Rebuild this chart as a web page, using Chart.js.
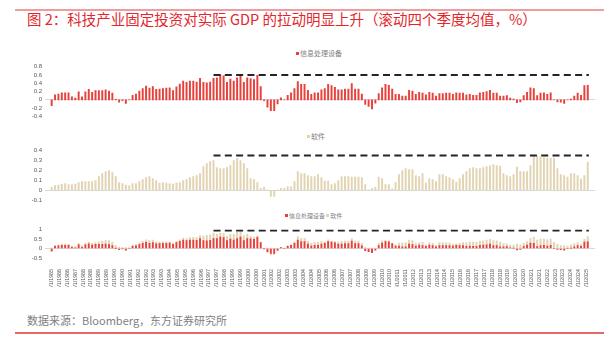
<!DOCTYPE html>
<html>
<head>
<meta charset="utf-8">
<script src="https://cdn.jsdelivr.net/npm/chart.js@4.4.1/dist/chart.umd.min.js"></script>
<style>
body { margin: 0; background: #fff; }
#wrap { position: relative; width: 615px; height: 340px; overflow: hidden; font-family: "Noto Sans CJK SC", "Noto Sans", sans-serif; }
.rule { position: absolute; left: 15px; width: 589px; }
#title { position: absolute; left: 27px; top: 11px; font-size: 14.5px; line-height: 16px; color: #e3262b; white-space: nowrap; }
#source { position: absolute; left: 27px; top: 313px; font-size: 11px; line-height: 14px; color: #7f7f7f; white-space: nowrap; }
.legend { position: absolute; font-size: 7px; line-height: 8px; color: #808080; white-space: nowrap; }
.legend i { display: inline-block; width: 3px; height: 3px; margin: 0 1px 1px 0; vertical-align: middle; }
canvas { position: absolute; left: 0; }
</style>
</head>
<body>
<div id="wrap">
  <div class="rule" style="top:9px;height:2px;background:#f19c9c"></div>
  <div id="title">图 2：科技产业固定投资对实际 GDP 的拉动明显上升（滚动四个季度均值，%）</div>

  <div class="legend" style="left:296px;top:49px"><i style="background:#e8413c"></i>信息处理设备</div>
  <canvas id="c1" width="615" height="63" style="top:60px"></canvas>

  <div class="legend" style="left:307px;top:132px"><i style="background:#e2d4b2"></i>软件</div>
  <canvas id="c2" width="615" height="63" style="top:144px"></canvas>

  <div class="legend" style="left:285px;top:212px;font-size:6px"><i style="background:#e8413c"></i>信息处理设备 <i style="background:#e2d4b2"></i>软件</div>
  <canvas id="c3" width="615" height="66" style="top:223px"></canvas>

  <div id="source">数据来源：Bloomberg，东方证券研究所</div>
  <div class="rule" style="top:332px;height:1.5px;background:#e46a6a"></div>
</div>
<script>
// quarterly, rolling 4Q average contribution (%), 1985Q3 .. 2025Q2
var infoEquip = [
  -0.14, 0.12, 0.14, 0.17, 0.17, 0.17, 0.07, 0.04, 0.19, 0.07,
  0.19, 0.25, 0.18, 0.22, 0.22, 0.22, 0.24, 0.21, 0.16, 0.01,
  -0.06, -0.02, -0.09, 0.0, 0.11, 0.14, 0.21, 0.27, 0.33, 0.28,
  0.32, 0.25, 0.26, 0.27, 0.28, 0.29, 0.22, 0.31, 0.38, 0.45,
  0.42, 0.45, 0.45, 0.43, 0.52, 0.42, 0.41, 0.43, 0.52, 0.53,
  0.6, 0.58, 0.42, 0.5, 0.45, 0.53, 0.6, 0.42, 0.53, 0.51,
  0.49, 0.59, 0.32, -0.02, -0.18, -0.26, -0.26, -0.1, 0.05, 0.0,
  0.11, 0.17, 0.27, 0.44, 0.37, 0.37, 0.23, 0.13, 0.17, 0.17,
  0.24, 0.27, 0.37, 0.34, 0.3, 0.24, 0.24, 0.26, 0.26, 0.39,
  0.26, 0.26, 0.14, -0.11, -0.16, -0.22, -0.08, 0.15, 0.29, 0.37,
  0.35, 0.26, 0.13, 0.13, 0.09, 0.09, 0.23, 0.21, 0.13, 0.18,
  0.16, 0.12, 0.18, 0.16, 0.09, 0.15, 0.15, 0.16, 0.16, 0.13,
  0.17, 0.16, 0.16, 0.12, 0.13, 0.11, 0.11, 0.17, 0.18, 0.2,
  0.23, 0.16, 0.16, 0.09, 0.09, 0.1, 0.04, 0.02, -0.07, -0.05,
  0.1, 0.18, 0.29, 0.27, 0.1, 0.16, 0.17, 0.13, 0.17, 0.0,
  -0.05, -0.06, -0.09, 0.0, 0.02, 0.09, 0.16, 0.11, 0.34, 0.35
];
var software = [
  0.03, 0.05, 0.055, 0.065, 0.07, 0.06, 0.06, 0.065, 0.08, 0.09,
  0.09, 0.09, 0.09, 0.1, 0.14, 0.17, 0.19, 0.2, 0.18, 0.14,
  0.08, 0.07, 0.055, 0.05, 0.07, 0.07, 0.09, 0.11, 0.13, 0.14,
  0.12, 0.1, 0.075, 0.08, 0.075, 0.07, 0.065, 0.075, 0.08, 0.1,
  0.11, 0.13, 0.14, 0.15, 0.17, 0.24, 0.27, 0.29, 0.3, 0.23,
  0.22, 0.22, 0.23, 0.25, 0.3, 0.32, 0.3, 0.27, 0.22, 0.12,
  0.11, 0.08, 0.02, 0.03, 0.005, -0.06, -0.06, 0.005, 0.02, 0.02,
  0.04, 0.035, 0.09, 0.19, 0.17, 0.17, 0.15, 0.14, 0.14, 0.16,
  0.13, 0.095, 0.095, 0.06, 0.07, 0.1, 0.14, 0.14, 0.14, 0.135,
  0.135, 0.135, 0.13, 0.06, 0.005, 0.02, 0.03, 0.135, 0.12, 0.06,
  0.06, 0.015, 0.08, 0.16, 0.2, 0.22, 0.21, 0.21, 0.15, 0.14,
  0.17, 0.075, 0.12, 0.11, 0.09, 0.16, 0.16, 0.14, 0.13, 0.11,
  0.085, 0.12, 0.16, 0.19, 0.22, 0.23, 0.22, 0.22, 0.23, 0.24,
  0.25, 0.26, 0.25, 0.245, 0.17, 0.15, 0.14, 0.16, 0.235, 0.19,
  0.19, 0.19, 0.25, 0.34, 0.345, 0.34, 0.33, 0.325, 0.325, 0.325,
  0.22, 0.16, 0.15, 0.135, 0.17, 0.17, 0.15, 0.115, 0.15, 0.285
];
var tickLabels = [
  "9/1/1985", "4/1/1986", "11/1/1986", "6/1/1987", "1/1/1988", "8/1/1988", "3/1/1989",
  "10/1/1989", "5/1/1990", "12/1/1990", "7/1/1991", "2/1/1992", "9/1/1992", "4/1/1993",
  "11/1/1993", "6/1/1994", "1/1/1995", "8/1/1995", "3/1/1996", "10/1/1996", "5/1/1997",
  "12/1/1997", "7/1/1998", "2/1/1999", "9/1/1999", "4/1/2000", "11/1/2000", "6/1/2001",
  "1/1/2002", "8/1/2002", "3/1/2003", "10/1/2003", "5/1/2004", "12/1/2004", "7/1/2005",
  "2/1/2006", "9/1/2006", "4/1/2007", "11/1/2007", "6/1/2008", "1/1/2009", "8/1/2009",
  "3/1/2010", "10/1/2010", "5/1/2011", "12/1/2011", "7/1/2012", "2/1/2013", "9/1/2013",
  "4/1/2014", "11/1/2014", "6/1/2015", "1/1/2016", "8/1/2016", "3/1/2017", "10/1/2017",
  "5/1/2018", "12/1/2018", "7/1/2019", "2/1/2020", "9/1/2020", "4/1/2021", "11/1/2021",
  "6/1/2022", "1/1/2023", "8/1/2023", "3/1/2024", "10/1/2024", "5/1/2025"
];
// dashed reference levels (from ~9/1997 to the end)
var refLevel = { info: 0.6, soft: 0.35, total: 0.95 };
var refStart = 144, refEnd = 478;   // months since 9/1985

var RED = "#e8413c", BEIGE = "#e2d4b2";

function pts(arr) {
  return arr.map(function (v, i) { return { x: i * 3, y: v }; });
}

function refLine(level) {
  return {
    type: "line",
    data: [{ x: refStart, y: level }, { x: refEnd, y: level }],
    borderColor: "#242424",
    borderWidth: 2,
    borderDash: [7, 4.3],
    pointRadius: 0,
    stack: "ref",
    order: 0
  };
}

function barSet(arr, color) {
  return {
    type: "bar",
    data: pts(arr),
    backgroundColor: color,
    borderWidth: 0,
    barThickness: 1.3,
    order: 1
  };
}

function opts(yMin, yMax, step, showX) {
  return {
    responsive: false,
    animation: false,
    devicePixelRatio: 1,
    events: [],
    layout: { padding: { left: 0, right: 20, top: 6, bottom: showX ? 2 : 6 } },
    plugins: { legend: { display: false }, tooltip: { enabled: false } },
    scales: {
      x: {
        type: "linear",
        min: -2.4,
        max: 479.9,
        display: showX,
        stacked: showX,
        grid: { display: false },
        border: { display: false },
        afterBuildTicks: function (s) {
          s.ticks = tickLabels.map(function (_, i) { return { value: i * 7 }; });
        },
        afterFit: function (s) { if (showX) s.height = 29; },
        ticks: {
          autoSkip: false,
          minRotation: 90,
          maxRotation: 90,
          padding: 3,
          color: "#595959",
          font: { family: "Liberation Sans", size: 5.3 },
          callback: function (v, i) { return tickLabels[i]; }
        }
      },
      y: {
        min: yMin,
        max: yMax,
        stacked: showX,
        afterFit: function (s) { s.width = 45; },
        grid: {
          drawTicks: false,
          lineWidth: 1,
          color: function (c) { return c.tick && Math.abs(c.tick.value) < 1e-9 ? "#d9d9d9" : "rgba(0,0,0,0)"; }
        },
        border: { display: false },
        ticks: {
          autoSkip: false,
          stepSize: step,
          padding: 3,
          color: "#595959",
          font: { family: "Liberation Sans", size: 6 },
          callback: function (v) { return String(Math.round(v * 100) / 100); }
        }
      }
    }
  };
}

new Chart("c1", {
  type: "bar",
  data: { datasets: [barSet(infoEquip, RED), refLine(refLevel.info)] },
  options: opts(-0.4, 0.8, 0.2, false)
});

new Chart("c2", {
  type: "bar",
  data: { datasets: [barSet(software, BEIGE), refLine(refLevel.soft)] },
  options: opts(-0.1, 0.4, 0.1, false)
});

new Chart("c3", {
  type: "bar",
  data: { datasets: [barSet(infoEquip, RED), barSet(software, BEIGE), refLine(refLevel.total)] },
  options: opts(-0.5, 1, 0.5, true)
});
</script>
</body>
</html>
